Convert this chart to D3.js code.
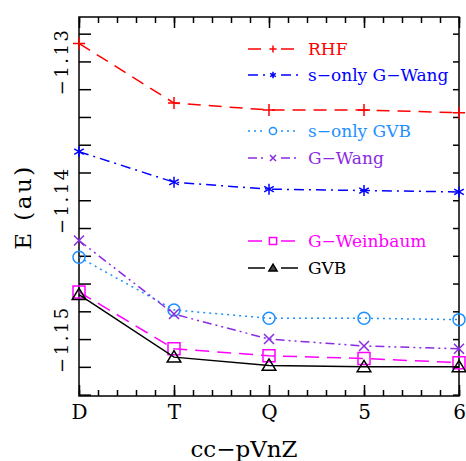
<!DOCTYPE html>
<html>
<head>
<meta charset="utf-8">
<script src="https://cdn.jsdelivr.net/npm/d3@7"></script>
<style>
  body { margin: 0; background: #fff; }
  text { font-family: "DejaVu Serif", serif; }
</style>
</head>
<body>
<svg id="chart" width="466" height="461"></svg>
<script>
// basis sets on the x axis (n = 2..6)
const basis = ["D", "T", "Q", "5", "6"];
const basisN = [2, 3, 4, 5, 6];

// energies (au)
const rhf        = [-1.1287, -1.1330, -1.1335, -1.1335, -1.1337];
const sGWang     = [-1.1365, -1.1387, -1.1392, -1.1393, -1.1394];
const sGVB       = [-1.1441, -1.1479, -1.1485, -1.1485, -1.1486];
const gWang      = [-1.1429, -1.1482, -1.1500, -1.1505, -1.1507];
const gWeinbaum  = [-1.1466, -1.1507, -1.1512, -1.1514, -1.1517];
const gvb        = [-1.1468, -1.1513, -1.1519, -1.1520, -1.1520];

const yLabels = [-1.13, -1.14, -1.15];

const series = [
  { name: "RHF",            values: rhf,       color: "#ff0000", dash: "13,8",          mark: "plus",   ly: 49 },
  { name: "s\u2212only G\u2212Wang", values: sGWang, color: "#0000ff", dash: "10,5,2,5", mark: "star",   ly: 75 },
  { name: "s\u2212only GVB", values: sGVB,      color: "#1e90ff", dash: "2,4",           mark: "circle", ly: 131 },
  { name: "G\u2212Wang",     values: gWang,     color: "#8a2be2", dash: "9,4,2,4,2,4",   mark: "cross",  ly: 158 },
  { name: "G\u2212Weinbaum", values: gWeinbaum, color: "#ff00ff", dash: "14,8",          mark: "square", ly: 241 },
  { name: "GVB",            values: gvb,       color: "#000000", dash: null,            mark: "tri",    ly: 268 }
];

const svg = d3.select("#chart");
const pLeft = 79, pRight = 459, pTop = 17, pBottom = 396;

const x = d3.scaleLinear().domain([2, 6]).range([pLeft, pRight]);
const y = d3.scaleLinear().domain([-1.1541, -1.1268]).range([pBottom, pTop]);

// ticks
const xMinor = d3.range(10, 31).map(d => d / 5);
const yMinor = d3.range(-1154, -1126, 2).map(d => d / 1000);

function clean(g) { g.select(".domain").remove(); g.selectAll("line").attr("stroke", "#000").attr("stroke-width", 1.5); }

svg.append("g").attr("transform", `translate(0,${pBottom})`)
  .call(d3.axisBottom(x).tickValues(xMinor).tickSize(-6).tickFormat(""))
  .call(clean);
svg.append("g").attr("transform", `translate(0,${pBottom})`)
  .call(d3.axisBottom(x).tickValues(basisN).tickSize(-11).tickPadding(9)
        .tickFormat(d => basis[basisN.indexOf(d)]))
  .call(clean)
  .selectAll("text").style("font-size", "20px").attr("fill", "#000")
  .style("font-family", "DejaVu Serif");
svg.append("g").attr("transform", `translate(0,${pTop})`)
  .call(d3.axisTop(x).tickValues(xMinor).tickSize(-6).tickFormat(""))
  .call(clean);
svg.append("g").attr("transform", `translate(0,${pTop})`)
  .call(d3.axisTop(x).tickValues(basisN).tickSize(-11).tickFormat(""))
  .call(clean);
svg.append("g").attr("transform", `translate(${pLeft},0)`)
  .call(d3.axisLeft(y).tickValues(yMinor).tickSize(-12).tickFormat(""))
  .call(clean);
svg.append("g").attr("transform", `translate(${pRight},0)`)
  .call(d3.axisRight(y).tickValues(yMinor).tickSize(-6).tickFormat(""))
  .call(clean);

// rotated y tick labels
svg.append("g").selectAll("text")
  .data(yLabels)
  .join("text")
    .attr("transform", d => `translate(68,${y(d)}) rotate(-90)`)
    .attr("text-anchor", "middle")
    .style("font-size", "18px")
    .style("letter-spacing", "2.5px")
    .text(d => "\u2212" + Math.abs(d).toFixed(2));

// frame
svg.append("rect")
  .attr("x", pLeft).attr("y", pTop)
  .attr("width", pRight - pLeft).attr("height", pBottom - pTop)
  .attr("fill", "none").attr("stroke", "#000").attr("stroke-width", 1.5);

// axis titles
svg.append("text")
  .attr("x", 244).attr("y", 457)
  .attr("text-anchor", "middle")
  .style("font-size", "23px")
  .text("cc\u2212pVnZ");
svg.append("text")
  .attr("transform", "translate(31,207) rotate(-90)")
  .attr("text-anchor", "middle")
  .style("font-size", "23px")
  .style("letter-spacing", "2.5px")
  .text("E (au)");

// marker shapes
function markerPath(type, s) {
  switch (type) {
    case "plus":   return `M${-s},0H${s}M0,${-s}V${s}`;
    case "cross":  return `M${-s},${-s}L${s},${s}M${-s},${s}L${s},${-s}`;
    case "star": {
      const a = s * 0.87, b = s * 0.5;
      return `M0,${-s}V${s}M${-a},${-b}L${a},${b}M${-a},${b}L${a},${-b}`;
    }
    case "circle": return `M${s},0A${s},${s} 0 1,1 ${-s},0A${s},${s} 0 1,1 ${s},0Z`;
    case "square": return `M${-s},${-s}H${s}V${s}H${-s}Z`;
    case "tri":    return `M0,${-s}L${s * 1.05},${s * 0.75}H${-s * 1.05}Z`;
  }
}
const markSize = { plus: 6, cross: 5, star: 5.5, circle: 6, square: 6, tri: 6.5 };

const line = d3.line().x((d, i) => x(basisN[i])).y(d => y(d));
const plot = svg.append("g");

series.forEach(s => {
  plot.append("path")
    .datum(s.values)
    .attr("d", line)
    .attr("fill", "none")
    .attr("stroke", s.color)
    .attr("stroke-width", 1.5)
    .attr("stroke-dasharray", s.dash);

  plot.append("g").selectAll("path")
    .data(s.values)
    .join("path")
      .attr("transform", (d, i) => `translate(${x(basisN[i])},${y(d)})`)
      .attr("d", markerPath(s.mark, markSize[s.mark]))
      .attr("fill", "none")
      .attr("stroke", s.color)
      .attr("stroke-width", 1.5);
});

// legend
const lg = svg.append("g");
series.forEach(s => {
  const row = lg.append("g").attr("transform", `translate(0,${s.ly})`);
  [[248, 265], [281, 298]].forEach(([a, b]) => {
    row.append("line")
      .attr("x1", a).attr("x2", b).attr("y1", 0).attr("y2", 0)
      .attr("stroke", s.color).attr("stroke-width", 1.5)
      .attr("stroke-dasharray", s.dash);
  });
  row.append("path")
    .attr("transform", "translate(273,0)")
    .attr("d", markerPath(s.mark, markSize[s.mark] * 0.6))
    .attr("fill", s.mark === "tri" ? "#444" : "none")
    .attr("stroke", s.color)
    .attr("stroke-width", 1.5);
  row.append("text")
    .attr("x", 308).attr("y", 6)
    .attr("fill", s.color)
    .style("font-size", "17px")
    .text(s.name);
});
</script>
</body>
</html>
